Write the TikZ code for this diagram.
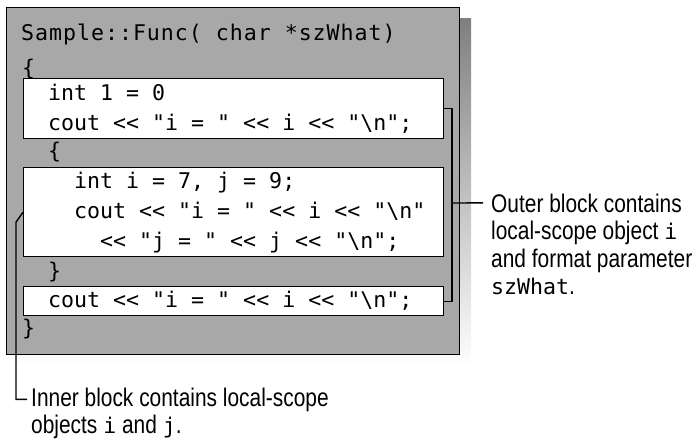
\documentclass[tikz,border=0pt]{standalone}
\usepackage{fontspec}
\setmainfont{Liberation Sans}[FakeStretch=0.82]
\newfontfamily\codefont{DejaVu Sans Mono}
\newfontfamily\codewide{DejaVu Sans Mono}[LetterSpace=4.5]
\newcommand\codesize{\fontsize{21.6pt}{21.6pt}\selectfont}
\newcommand\labsize{\fontsize{25.5pt}{27.5pt}\selectfont}
\definecolor{panel}{gray}{0.66}
\definecolor{shade}{gray}{0.24}
\begin{document}
\begin{tikzpicture}[x=1pt,y=-1pt,
  code/.style={anchor=base west, inner sep=0pt, font=\codesize\codefont},
  lab/.style={anchor=base west, inner sep=0pt, font=\labsize},
  whitebox/.style={draw=black, line width=1.4pt, fill=white, anchor=north west, inner sep=0pt, minimum width=420pt},
  link/.style={draw=black, line width=1.4pt}]
\useasboundingbox (0,0) rectangle (696,442);
% shadow and panel
\fill[shade] (16,18) rectangle (471,366);
\node[draw=black, line width=1.4pt, fill=panel, anchor=north west, inner sep=0pt,
      minimum width=453pt, minimum height=347pt] (frame) at (6,7) {};
% white blocks
\node[whitebox, minimum height=60pt] (b1) at (23,78) {};
\node[whitebox, minimum height=89pt] (b2) at (23,167) {};
\node[whitebox, minimum height=29pt] (b3) at (23,286) {};
% code
\node[code, font=\codesize\codewide] (c0) at (21,40) {Sample::Func( char *szWhat)};
\node[code] (c1) at (22,75) {\{};
\node[code] (c2) at (48,100) {int 1 = 0};
\node[code] (c3) at (48,130) {cout << "i = " << i << "\textbackslash n";};
\node[code] (c4) at (48,158) {\{};
\node[code] (c5) at (74,188) {int i = 7, j = 9;};
\node[code] (c6) at (74,218) {cout << "i = " << i << "\textbackslash n"};
\node[code] (c7) at (100,248) {<< "j = " << j << "\textbackslash n";};
\node[code] (c8) at (48,278) {\}};
\node[code] (c9) at (48,307) {cout << "i = " << i << "\textbackslash n";};
\node[code] (c10) at (22,335) {\}};
% labels
\node[lab] (o1) at (491,212) {Outer block contains};
\node[lab] (o2) at (491,239.5) {local-scope object {\codesize\codefont i}};
\node[lab] (o3) at (491,267) {and format parameter};
\node[lab] (o4) at (491,294.5) {{\codesize\codefont szWhat}.};
\node[lab] (i1) at (31,406) {Inner block contains local-scope};
\node[lab] (i2) at (31,433) {objects {\codesize\codefont i} and {\codesize\codefont j}.};
% brackets
\coordinate (rb) at (452,203);
\draw[link] (b1.east) -- (b1.east -| rb) -- (b3.east -| rb) -- (b3.east);
\draw[link] (rb) -- ([xshift=-8pt]o1.west);
\draw[link] (b2.west) -- ++(-7,10) |- ([xshift=-4pt]i1.west);
\end{tikzpicture}
\end{document}
